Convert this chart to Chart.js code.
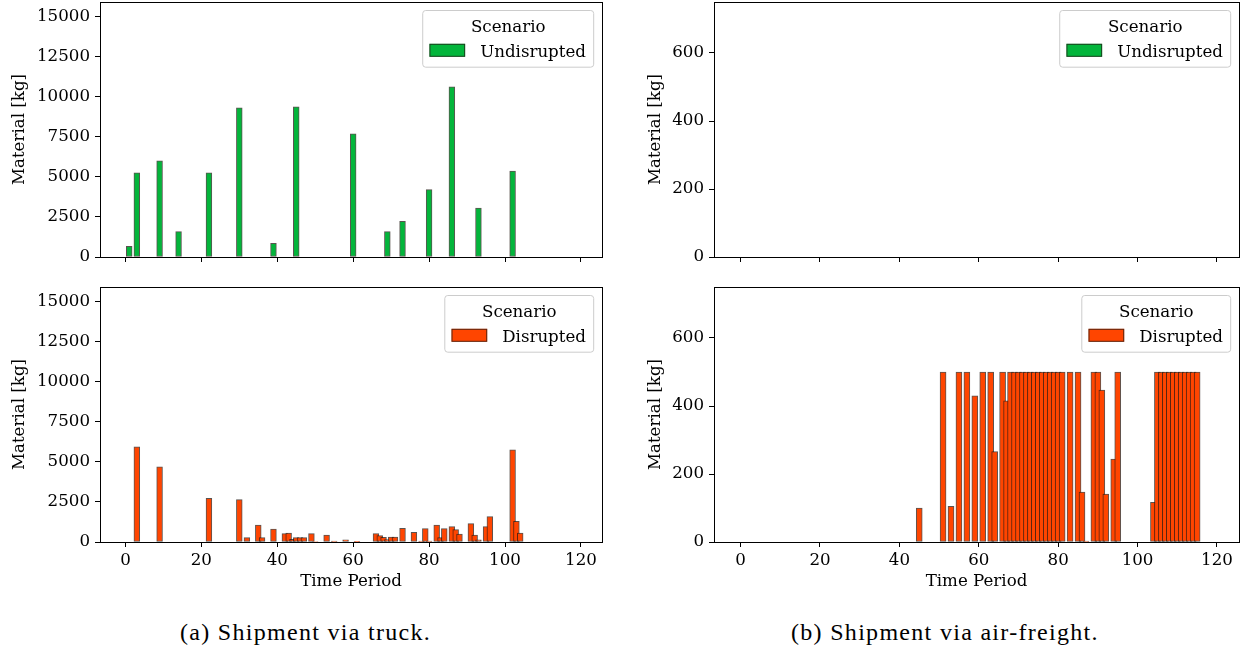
<!DOCTYPE html>
<html>
<head>
<meta charset="utf-8">
<script src="https://cdn.jsdelivr.net/npm/chart.js@4/dist/chart.umd.min.js"></script>
<style>
  html, body { margin: 0; padding: 0; background: #fff; width: 1244px; height: 649px; overflow: hidden; }
  canvas { position: absolute; }
  .caption { position: absolute; font-family: "Liberation Serif", serif; font-size: 24px; line-height: 24px;
             letter-spacing: 1.3px; color: #000; white-space: nowrap; }
</style>
</head>
<body>
<canvas id="truckTop" width="612" height="272" style="left:0;top:0"></canvas>
<canvas id="truckBottom" width="612" height="328" style="left:0;top:272px"></canvas>
<canvas id="airTop" width="608" height="272" style="left:636px;top:0"></canvas>
<canvas id="airBottom" width="608" height="328" style="left:636px;top:272px"></canvas>
<div class="caption" style="left:180px;top:620px">(a) Shipment via truck.</div>
<div class="caption" style="left:791px;top:620px">(b) Shipment via air-freight.</div>

<script>
// Tick positions
const timeTicks = [0, 20, 40, 60, 80, 100, 120];
const truckTicks = [0, 2500, 5000, 7500, 10000, 12500, 15000];
const airTicks = [0, 200, 400, 600];

// Truck shipments, undisrupted scenario (period, kg)
const truckTimesUndisrupted = [1, 3, 9, 14, 22, 30, 39, 45, 60, 69, 73, 80, 86, 93, 102];
const truckUndisrupted = [660, 5240, 5990, 1580, 5240, 9290, 850, 9350, 7670, 1580, 2220, 4200, 10600, 3050, 5360];

// Truck shipments, disrupted scenario
const truckTimesDisrupted = [3, 9, 22, 30, 32, 35, 36, 39, 42, 43, 44, 45, 46, 47, 49, 50, 53, 55, 58, 61,
  66, 67, 68, 69, 70, 71, 73, 76, 78, 79, 80, 82, 83, 84, 86, 87, 88, 91, 92, 93, 95, 96, 102, 103, 104];
const truckDisrupted = [5930, 4680, 2720, 2640, 270, 1060, 270, 811, 520, 561, 170, 270, 270, 270, 520, 30, 437, 62, 140, 25,
  520, 395, 291, 146, 312, 312, 852, 603, 62, 832, 62, 1060, 270, 832, 956, 769, 499, 1143, 437, 130, 956, 1580, 5740, 1289, 561];

// Air-freight shipments, undisrupted scenario (none)
const airTimesUndisrupted = [];
const airUndisrupted = [];

// Air-freight shipments, disrupted scenario
const airTimesDisrupted = [45, 51, 53, 55, 57, 59, 61, 63, 64, 66, 67,
  68, 69, 70, 71, 72, 73, 74, 75, 76, 77, 78, 79, 80, 81,
  83, 85, 86, 87, 89, 90, 91, 92, 94, 95,
  104, 105, 106, 107, 108, 109, 110, 111, 112, 113, 114, 115];
const airDisrupted = [100, 500, 105, 500, 500, 430, 500, 500, 266, 500, 415,
  500, 500, 500, 500, 500, 500, 500, 500, 500, 500, 500, 500, 500, 500,
  500, 500, 147, 3, 500, 500, 447, 141, 244, 500,
  117, 500, 500, 500, 500, 500, 500, 500, 500, 500, 500, 500];

const GREEN = '#03B53B';
const ORANGE = '#FF4500';
const EDGE = 'rgba(35,25,20,0.75)';
const FONT = { family: 'DejaVu Serif', size: 16.67 };
const FONT_CSS = '16.67px "DejaVu Serif"';

function pairs(xs, ys) { return xs.map((x, i) => ({ x: x, y: ys[i] })); }

// Four spines drawn on top of the bars
const frame = {
  id: 'frame',
  afterDatasetsDraw(chart) {
    const { ctx, chartArea: a } = chart;
    ctx.save();
    ctx.strokeStyle = '#000';
    ctx.lineWidth = 1;
    ctx.strokeRect(Math.round(a.left) + 0.5, Math.round(a.top) + 0.5,
                   Math.round(a.right - a.left), Math.round(a.bottom - a.top));
    ctx.restore();
  }
};

// Legend box with title, placed in the upper right corner of the plot area
const boxLegend = {
  id: 'boxLegend',
  afterDraw(chart, args, opts) {
    const { ctx, chartArea: a } = chart;
    ctx.save();
    ctx.font = FONT_CSS;
    const tw = ctx.measureText(opts.label).width;
    const w = 6.7 + 35.7 + 15 + tw + 7.7;
    const h = 56.7;
    const right = a.right - 8.3;
    const left = right - w;
    const top = a.top + 8.5;
    ctx.beginPath();
    ctx.roundRect(left, top, w, h, 3);
    ctx.fillStyle = 'rgba(255,255,255,0.8)';
    ctx.fill();
    ctx.strokeStyle = '#cccccc';
    ctx.lineWidth = 1;
    ctx.stroke();
    ctx.fillStyle = '#000';
    ctx.textBaseline = 'alphabetic';
    ctx.textAlign = 'center';
    ctx.fillText(opts.title, left + w / 2, top + 21);
    ctx.fillStyle = opts.color;
    ctx.fillRect(left + 6.7, top + 33.3, 35.7, 13);
    ctx.strokeStyle = EDGE;
    ctx.strokeRect(left + 6.7 + 0.5, top + 33.3 + 0.5, 34.7, 12);
    ctx.fillStyle = '#000';
    ctx.textAlign = 'left';
    ctx.fillText(opts.label, left + 6.7 + 35.7 + 15, top + 46.3);
    ctx.restore();
  }
};

function axisGrid() {
  return { display: true, offset: false, drawOnChartArea: false, drawTicks: true, tickLength: 5, color: '#000', lineWidth: 1 };
}

function makeChart(id, cfg) {
  const ctx = document.getElementById(id);
  return new Chart(ctx, {
    type: 'bar',
    data: {
      datasets: [{
        data: pairs(cfg.times, cfg.values),
        backgroundColor: cfg.color,
        borderColor: EDGE,
        borderWidth: 1,
        borderSkipped: false,
        barThickness: cfg.barWidth
      }]
    },
    options: {
      responsive: false,
      animation: false,
      events: [],
      layout: { padding: { top: cfg.padTop, right: cfg.padRight, left: 0, bottom: 0 } },
      plugins: {
        legend: { display: false },
        tooltip: { enabled: false },
        boxLegend: { title: 'Scenario', label: cfg.label, color: cfg.color }
      },
      scales: {
        x: {
          type: 'linear',
          offset: false,
          min: -6.7,
          max: 125.55,
          afterBuildTicks: s => { s.ticks = timeTicks.map(v => ({ value: v })); },
          afterFit: s => { s.height = cfg.xAxisHeight; s.paddingLeft = 0; s.paddingRight = 0; },
          grid: axisGrid(),
          border: { display: false },
          ticks: {
            display: cfg.showX,
            color: '#000',
            font: FONT,
            padding: 4,
            maxRotation: 0,
            autoSkip: false,
            callback: v => String(v)
          },
          title: { display: cfg.showX, text: 'Time Period', color: '#000', font: FONT, padding: { top: 0, bottom: 8 } }
        },
        y: {
          type: 'linear',
          min: 0,
          max: cfg.yMax,
          afterBuildTicks: s => { s.ticks = cfg.yTicks.map(v => ({ value: v })); },
          afterFit: s => { s.width = cfg.yAxisWidth; s.paddingTop = 0; s.paddingBottom = 0; },
          grid: axisGrid(),
          border: { display: false },
          ticks: { color: '#000', font: FONT, padding: 5, autoSkip: false, callback: v => String(v) },
          title: { display: true, text: 'Material [kg]', color: '#000', font: FONT, padding: { top: 10, bottom: 0 } }
        }
      }
    },
    plugins: [frame, boxLegend]
  });
}

const truckLayout = { yAxisWidth: 100, padRight: 10, yMax: 15885, yTicks: truckTicks, barWidth: 5.8 };
const airLayout = { yAxisWidth: 78, padRight: 5, yMax: 750, yTicks: airTicks, barWidth: 6 };

makeChart('truckTop', Object.assign({}, truckLayout, {
  times: truckTimesUndisrupted, values: truckUndisrupted, color: GREEN, label: 'Undisrupted',
  padTop: 2, xAxisHeight: 15, showX: false
}));
makeChart('truckBottom', Object.assign({}, truckLayout, {
  times: truckTimesDisrupted, values: truckDisrupted, color: ORANGE, label: 'Disrupted',
  padTop: 15, xAxisHeight: 58, showX: true
}));
makeChart('airTop', Object.assign({}, airLayout, {
  times: airTimesUndisrupted, values: airUndisrupted, color: GREEN, label: 'Undisrupted',
  padTop: 2, xAxisHeight: 15, showX: false
}));
makeChart('airBottom', Object.assign({}, airLayout, {
  times: airTimesDisrupted, values: airDisrupted, color: ORANGE, label: 'Disrupted',
  padTop: 15, xAxisHeight: 58, showX: true
}));
</script>
</body>
</html>
